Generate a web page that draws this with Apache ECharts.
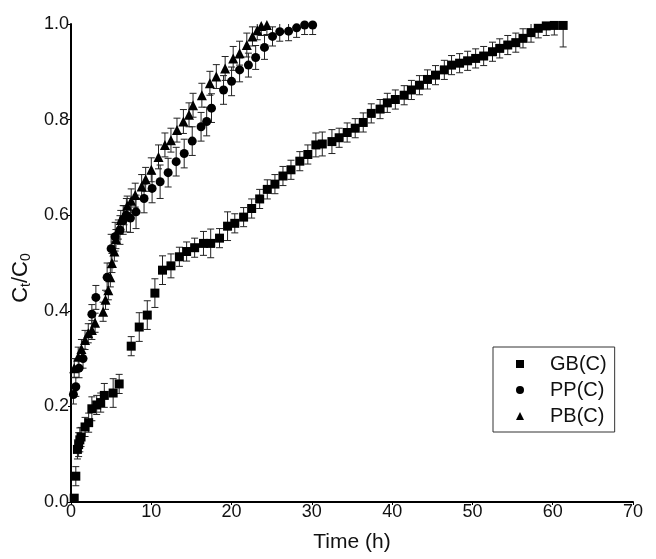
<!DOCTYPE html>
<html>
<head>
<meta charset="utf-8">
<script src="https://cdn.jsdelivr.net/npm/echarts@6/dist/echarts.min.js"></script>
<style>
  html, body { margin: 0; padding: 0; background: #fff; }
  #chart { width: 656px; height: 559px; }
</style>
</head>
<body>
<div id="chart"></div>
<script>
// Release curves: fraction released (Ct/C0) vs time, mean with error bars.
const seriesNames = ['GB(C)', 'PP(C)', 'PB(C)'];
const xTicks = [0, 10, 20, 30, 40, 50, 60, 70];
const yTicks = [0.0, 0.2, 0.4, 0.6, 0.8, 1.0];

// GB(C): time (h)
const gbTime = [0.4, 0.6, 0.8, 0.95, 1.1, 1.25, 1.75, 2.2, 2.6, 3.2, 3.7, 4.15, 5.25, 6.0,
  7.5, 8.5, 9.5, 10.45, 11.4, 12.45, 13.5, 14.4, 15.4, 16.5, 17.4, 18.5, 19.5, 20.4,
  21.5, 22.5, 23.5, 24.45, 25.4, 26.4, 27.4, 28.5, 29.5, 30.5, 31.3, 32.5, 33.4, 34.4,
  35.4, 36.4, 37.4, 38.5, 39.4, 40.4, 41.5, 42.4, 43.4, 44.4, 45.4, 46.5, 47.4, 48.4,
  49.4, 50.4, 51.4, 52.5, 53.4, 54.4, 55.4, 56.3, 57.3, 58.2, 59.2, 60.2, 61.3];
const gbValue = [0.008, 0.054, 0.11, 0.12, 0.13, 0.136, 0.157, 0.166, 0.195, 0.203, 0.208, 0.223, 0.228, 0.247,
  0.326, 0.366, 0.391, 0.437, 0.485, 0.494, 0.513, 0.524, 0.532, 0.541, 0.541, 0.552, 0.577, 0.583,
  0.596, 0.614, 0.634, 0.654, 0.665, 0.682, 0.695, 0.713, 0.727, 0.747, 0.749, 0.754, 0.762, 0.773,
  0.782, 0.794, 0.813, 0.822, 0.835, 0.842, 0.851, 0.862, 0.872, 0.884, 0.893, 0.904, 0.914, 0.918,
  0.923, 0.928, 0.933, 0.942, 0.949, 0.956, 0.961, 0.970, 0.982, 0.991, 0.996, 0.997, 0.997];
const gbError = [0.006, 0.02, 0.02, 0.025, 0.025, 0.02, 0.02, 0.02, 0.025, 0.02, 0.02, 0.025, 0.03, 0.02,
  0.02, 0.03, 0.03, 0.03, 0.03, 0.025, 0.02, 0.02, 0.02, 0.025, 0.03, 0.02, 0.03, 0.02,
  0.02, 0.02, 0.02, 0.02, 0.02, 0.02, 0.02, 0.02, 0.02, 0.025, 0.025, 0.025, 0.02, 0.02,
  0.02, 0.02, 0.02, 0.02, 0.02, 0.02, 0.02, 0.02, 0.02, 0.02, 0.02, 0.02, 0.02, 0.02,
  0.02, 0.02, 0.02, 0.02, 0.02, 0.02, 0.02, 0.02, 0.02, 0.02, 0.02, 0.02, 0.045];

// PP(C)
const ppTime = [0.3, 0.6, 1.0, 1.5, 2.6, 3.1, 4.5, 5.0, 5.5, 6.1, 6.5, 6.9, 7.4, 8.1, 9.1, 10.1,
  11.1, 12.1, 13.1, 14.1, 15.1, 16.2, 16.9, 17.5, 19.0, 20.0, 21.0, 22.1, 23.0, 24.1,
  25.1, 26.0, 27.1, 28.1, 29.1, 30.1];
const ppValue = [0.225, 0.241, 0.28, 0.30, 0.393, 0.428, 0.47, 0.53, 0.555, 0.569, 0.59, 0.60, 0.594, 0.607, 0.635, 0.656,
  0.67, 0.689, 0.712, 0.729, 0.755, 0.785, 0.796, 0.824, 0.862, 0.88, 0.904, 0.914, 0.93, 0.951,
  0.974, 0.984, 0.985, 0.992, 0.998, 0.998];
const ppError = [0.02, 0.02, 0.02, 0.02, 0.02, 0.025, 0.03, 0.03, 0.03, 0.03, 0.03, 0.035, 0.03, 0.035, 0.03, 0.03,
  0.035, 0.03, 0.03, 0.03, 0.03, 0.03, 0.03, 0.03, 0.03, 0.03, 0.025, 0.025, 0.025, 0.025,
  0.02, 0.02, 0.02, 0.02, 0.02, 0.02];

// PB(C)
const pbTime = [0.4, 0.9, 1.3, 1.75, 2.15, 2.6, 3.0, 4.0, 4.3, 4.65, 4.9, 5.1, 5.4, 5.6, 5.9, 6.2,
  6.6, 7.0, 7.5, 8.0, 8.8, 9.3, 10.0, 10.9, 11.7, 12.45, 13.2, 14.0, 14.7, 15.2, 16.3,
  17.3, 18.1, 19.2, 20.2, 21.0, 21.9, 22.6, 23.2, 23.7, 24.4];
const pbValue = [0.28, 0.304, 0.32, 0.339, 0.353, 0.36, 0.375, 0.398, 0.423, 0.443, 0.47, 0.50, 0.524, 0.55, 0.57, 0.59,
  0.60, 0.62, 0.63, 0.642, 0.66, 0.675, 0.695, 0.722, 0.747, 0.757, 0.778, 0.796, 0.81, 0.83, 0.851,
  0.876, 0.89, 0.907, 0.928, 0.939, 0.956, 0.974, 0.987, 0.996, 0.998];
const pbError = [0.02, 0.02, 0.02, 0.02, 0.02, 0.02, 0.02, 0.02, 0.02, 0.02, 0.02, 0.02, 0.02, 0.02, 0.02, 0.02,
  0.02, 0.02, 0.025, 0.025, 0.025, 0.025, 0.025, 0.025, 0.025, 0.025, 0.025, 0.025, 0.025, 0.025, 0.025,
  0.025, 0.025, 0.025, 0.025, 0.025, 0.025, 0.02, 0.02, 0.02, 0.02];

const symbols = ['rect', 'circle', 'triangle'];
const symbolSizes = [9, 9, 10];
const groups = [
  [gbTime, gbValue, gbError],
  [ppTime, ppValue, ppError],
  [pbTime, pbValue, pbError]
];

const fontFamily = '"Liberation Sans", Arial, sans-serif';
const ink = '#111';

function errorBarSeries(name, t, v, e) {
  const data = t.map((x, i) => [x, v[i] - e[i], v[i] + e[i]]);
  return {
    type: 'custom',
    name: name + ' error',
    clip: true,
    silent: true,
    z: 2,
    data: data,
    renderItem: function (params, api) {
      const x = api.value(0);
      const lo = api.coord([x, api.value(1)]);
      const hi = api.coord([x, api.value(2)]);
      const half = 3.5;
      const style = { stroke: '#222', lineWidth: 1 };
      return {
        type: 'group',
        children: [
          { type: 'line', shape: { x1: lo[0], y1: lo[1], x2: hi[0], y2: hi[1] }, style: style },
          { type: 'line', shape: { x1: hi[0] - half, y1: hi[1], x2: hi[0] + half, y2: hi[1] }, style: style },
          { type: 'line', shape: { x1: lo[0] - half, y1: lo[1], x2: lo[0] + half, y2: lo[1] }, style: style }
        ]
      };
    }
  };
}

const series = [];
groups.forEach(function (g, k) {
  series.push(errorBarSeries(seriesNames[k], g[0], g[1], g[2]));
});
groups.forEach(function (g, k) {
  series.push({
    type: 'scatter',
    name: seriesNames[k],
    symbol: symbols[k],
    symbolSize: symbolSizes[k],
    itemStyle: { color: '#000', opacity: 1 },
    z: 3,
    clip: true,
    data: g[0].map((x, i) => [x, g[1][i]])
  });
});

const chart = echarts.init(document.getElementById('chart'), null, { renderer: 'canvas' });
chart.setOption({
  animation: false,
  backgroundColor: '#fff',
  textStyle: { fontFamily: fontFamily },
  grid: { left: 71, right: 23, top: 24, bottom: 57 },
  legend: {
    data: seriesNames.map((n, k) => ({ name: n, icon: symbols[k] })),
    orient: 'vertical',
    left: 493,
    top: 347,
    width: 119,
    padding: [6, 8, 5, 23],
    itemGap: 4,
    itemWidth: 8,
    itemHeight: 8,
    borderColor: '#333',
    borderWidth: 1,
    borderRadius: 0,
    itemStyle: { color: '#000', opacity: 1 },
    textStyle: { fontSize: 20, color: ink, fontFamily: fontFamily, lineHeight: 22, padding: [0, 0, 0, 21] },
    selectedMode: false
  },
  xAxis: {
    type: 'value',
    min: xTicks[0],
    max: xTicks[xTicks.length - 1],
    interval: 10,
    name: 'Time (h)',
    nameLocation: 'middle',
    nameGap: 30,
    nameTextStyle: { fontSize: 21, color: ink },
    axisLine: { onZero: false, lineStyle: { color: '#000', width: 2 } },
    axisTick: { show: true, length: 3, lineStyle: { color: '#000', width: 1 } },
    axisLabel: { fontSize: 18, color: ink, margin: 1 },
    splitLine: { show: false }
  },
  yAxis: {
    type: 'value',
    min: yTicks[0],
    max: yTicks[yTicks.length - 1],
    interval: 0.2,
    name: '{m|C}{s|t}{m|/C}{s|0}',
    nameLocation: 'middle',
    nameGap: 34,
    nameRotate: 90,
    nameTextStyle: {
      color: ink,
      padding: [0, 30, 0, 0],
      rich: {
        m: { fontSize: 22, color: ink, fontFamily: fontFamily },
        s: { fontSize: 14, color: ink, fontFamily: fontFamily, verticalAlign: 'bottom', padding: [10, 0, 0, 0] }
      }
    },
    axisLine: { onZero: false, lineStyle: { color: '#000', width: 2 } },
    axisTick: { show: true, length: 3, lineStyle: { color: '#000', width: 1 } },
    axisLabel: {
      fontSize: 18, color: ink, margin: 2,
      formatter: function (v) { return v.toFixed(1); }
    },
    splitLine: { show: false }
  },
  series: series
});
</script>
</body>
</html>
